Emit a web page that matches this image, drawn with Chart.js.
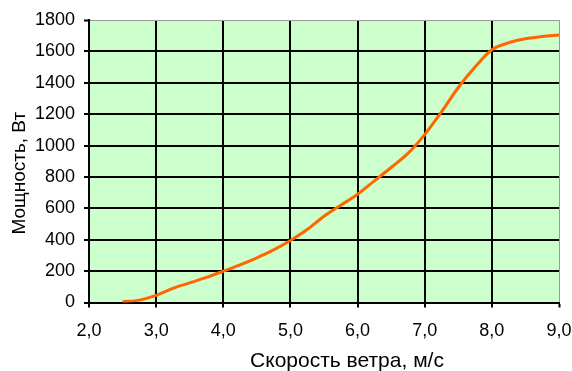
<!DOCTYPE html>
<html><head><meta charset="utf-8">
<script src="https://cdn.jsdelivr.net/npm/chart.js@4/dist/chart.umd.min.js"></script>
<style>html,body{margin:0;padding:0;background:#fff}</style>
</head><body>
<canvas id="c" width="572" height="371"></canvas>
<script>
const windSpeed = [2.5, 2.75, 3.0, 3.25, 3.5, 3.75, 4.0, 4.25, 4.5, 4.75, 5.0, 5.25, 5.5, 5.75, 6.0, 6.25, 6.5, 6.75, 7.0, 7.25, 7.5, 7.75, 8.0, 8.25, 8.5, 8.75, 9.0];
const power = [5, 15, 45, 90, 125, 160, 200, 240, 285, 335, 395, 465, 550, 620, 690, 775, 860, 950, 1070, 1215, 1370, 1500, 1610, 1655, 1680, 1695, 1705];
const xTickValues = [2, 3, 4, 5, 6, 7, 8, 9];
const yTickValues = [0, 200, 400, 600, 800, 1000, 1200, 1400, 1600, 1800];
const xTitle = 'Скорость ветра, м/с';
const yTitle = 'Мощность, Вт';

const family = '"Liberation Sans", Arial, sans-serif';
const font = {family: family, size: 18};
const points = windSpeed.map((x, i) => ({x: x, y: power[i]}));

const decorPlugin = {
  id: 'decor',
  beforeDraw(chart) {
    const {ctx, chartArea: a} = chart;
    ctx.save();
    ctx.fillStyle = '#CCFFCC';
    ctx.fillRect(a.left, a.top, a.right - a.left, a.bottom - a.top);
    ctx.restore();
  },
  afterDraw(chart) {
    const {ctx, chartArea: a} = chart;
    ctx.save();
    ctx.fillStyle = '#000';
    ctx.textAlign = 'center';
    ctx.textBaseline = 'middle';
    ctx.font = '21px ' + family;
    ctx.fillText(xTitle, (a.left + a.right) / 2 + 23, a.bottom + 59);
    ctx.translate(20, (a.top + a.bottom) / 2 + 12);
    ctx.rotate(-Math.PI / 2);
    ctx.font = '19px ' + family;
    ctx.fillText(yTitle, 0, 0);
    ctx.restore();
  }
};

new Chart(document.getElementById('c'), {
  type: 'line',
  data: {
    datasets: [{
      data: points,
      borderColor: '#FF6600',
      borderWidth: 3,
      pointRadius: 0,
      cubicInterpolationMode: 'monotone',
      fill: false
    }]
  },
  options: {
    responsive: false,
    animation: false,
    devicePixelRatio: 1,
    layout: {padding: {top: 20, right: 13, left: 0, bottom: 0}},
    plugins: {legend: {display: false}, tooltip: {enabled: false}},
    scales: {
      x: {
        type: 'linear',
        min: 2, max: 9,
        afterBuildTicks(s) { s.ticks = xTickValues.map(v => ({value: v})); },
        afterFit(s) { s.height = 68.5; s.paddingRight = 0; s.paddingLeft = 0; },
        ticks: {
          color: '#000', font: font, padding: 13, maxRotation: 0,
          callback: v => v.toFixed(1).replace('.', ',')
        },
        grid: {
          color: c => (c.tick && c.tick.value === 9) ? '#999' : '#000',
          lineWidth: c => (c.tick && c.tick.value === 9) ? 1 : 2,
          tickColor: '#000', tickWidth: 2, tickLength: 5
        },
        border: {display: true, color: '#000', width: 2}
      },
      y: {
        min: 0, max: 1800,
        afterBuildTicks(s) { s.ticks = yTickValues.map(v => ({value: v})); },
        afterFit(s) { s.width = 89; s.paddingTop = 0; s.paddingBottom = 0; },
        ticks: {color: '#000', font: font, padding: 9, callback: v => String(v)},
        grid: {
          color: c => (c.tick && c.tick.value === 1800) ? '#999' : '#000',
          lineWidth: c => (c.tick && c.tick.value === 1800) ? 1 : 2,
          tickColor: '#000', tickWidth: 2, tickLength: 5
        },
        border: {display: true, color: '#000', width: 2}
      }
    }
  },
  plugins: [decorPlugin]
});
</script>
</body></html>
